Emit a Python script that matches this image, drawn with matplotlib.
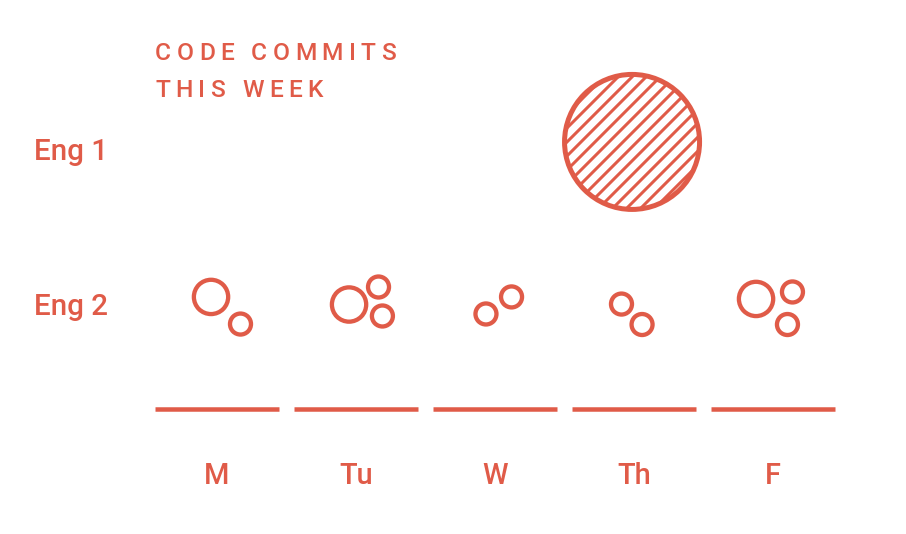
import numpy as np
import matplotlib
matplotlib.use('Agg')
import matplotlib.pyplot as plt
from matplotlib.transforms import blended_transform_factory, IdentityTransform
from matplotlib.collections import LineCollection
from matplotlib.patches import Circle

RED = '#E05B48'
DPI = 100
PT = 72 / DPI          # points per pixel
W, H = 906, 534

plt.rcParams['font.family'] = ['Roboto', 'DejaVu Sans']

########################################### data
days = ['M', 'Tu', 'W', 'Th', 'F']
engineers = ['Eng 2', 'Eng 1']          # row 0, row 1
title_lines = ['CODE COMMITS', 'THIS WEEK']

# Eng 1 commits (one big day)
eng1_day = [3]
eng1_dx = [-0.014]
eng1_dy = [0.065]
eng1_commits = [124]

# Eng 2 commits (jittered bubbles per day)
eng2_day = [0, 0, 1, 1, 1, 2, 2, 3, 3, 4, 4, 4]
eng2_dx = [-0.043, 0.169, -0.05, 0.162, 0.19, -0.065, 0.119, -0.09, 0.058, -0.122, 0.14, 0.104]
eng2_dy = [0.065, -0.11, 0.016, 0.129, -0.058, -0.045, 0.065, 0.019, -0.113, 0.052, 0.097, -0.113]
eng2_commits = [8, 3, 8, 3, 3, 3, 3, 3, 3, 8, 3, 3]

########################################### figure
fig = plt.figure(figsize=(W / DPI, H / DPI), dpi=DPI)
ax = fig.add_axes([0, 0, 1, 1])
# 139 px per day, 155 px per row
ax.set_xlim(-217 / 139, (W - 217) / 139)
ax.set_ylim(-(H - 307) / 155, 307 / 155)
ax.axis('off')


def radius_px(c):
    return 10.5 * np.sqrt(np.asarray(c, dtype=float) / 3.0)


def msize(c):
    return (2 * radius_px(c) * PT) ** 2


x2 = np.array(eng2_day) + np.array(eng2_dx)
y2 = 0 + np.array(eng2_dy)
ax.scatter(x2, y2, s=msize(eng2_commits), facecolor='white', edgecolor=RED,
           linewidth=4.3 * PT, zorder=3)

x1 = np.array(eng1_day) + np.array(eng1_dx)
y1 = 1 + np.array(eng1_dy)
ax.scatter(x1, y1, s=msize(eng1_commits), facecolor='white', edgecolor='none',
           zorder=3)
ax.scatter(x1, y1, s=msize(eng1_commits), facecolor='none', edgecolor=RED,
           linewidth=5 * PT, zorder=4)

# diagonal hatch inside the big bubble (done by hand for the spacing)
for xc, yc, c in zip(x1, y1, eng1_commits):
    cx, cy = ax.transData.transform((xc, yc))
    r = radius_px(c)
    step = 14.0
    offs = np.arange(-2 * r, 2 * r + step, step)
    segs = [[(cx + o - r, cy - r), (cx + o + r, cy + r)] for o in offs]
    lc = LineCollection(segs, colors=RED, linewidths=3.0 * PT,
                        transform=IdentityTransform(), zorder=3.5)
    ax.add_collection(lc, autolim=False)
    lc.set_clip_path(Circle((cx, cy), r, transform=IdentityTransform()))

# day baselines
xd = np.arange(len(days))
ax.hlines(np.full(len(days), -0.661), xd - 0.443, xd + 0.443, color=RED,
          linewidth=4.5 * PT, capstyle='butt')

lab_size = 29 * PT
for i, d in enumerate(days):
    ax.text(i, -1.142, d, ha='center', va='baseline', fontsize=lab_size,
            color=RED, fontweight='medium')

trans = blended_transform_factory(ax.transAxes, ax.transData)
for r, name in enumerate(engineers):
    ax.text(34 / W, r - 0.052, name, transform=trans, ha='left', va='baseline',
            fontsize=lab_size * 1.02, color=RED, fontweight='medium')

########################################### letter-spaced title
renderer = fig.canvas.get_renderer()
tsize = 24.5 * PT


def char_widths(s):
    ws = []
    for ch in s:
        if ch == ' ':
            ws.append(0.25 * tsize / PT)
            continue
        t = fig.text(0, 0, ch, fontsize=tsize, fontweight='medium')
        ws.append(t.get_window_extent(renderer).width)
        t.remove()
    return ws


w0 = char_widths(title_lines[0])
track = (241 - sum(w0)) / (len(title_lines[0]) - 1)
for k, line in enumerate(title_lines):
    ws = char_widths(line)
    x = 155
    ybase = 60 + 37 * k
    for ch, w in zip(line, ws):
        if ch != ' ':
            fig.text(x / W, 1 - ybase / H, ch, fontsize=tsize, color=RED,
                     ha='left', va='baseline', fontweight='medium')
        x += w + track

fig.savefig('out.png', dpi=DPI)
